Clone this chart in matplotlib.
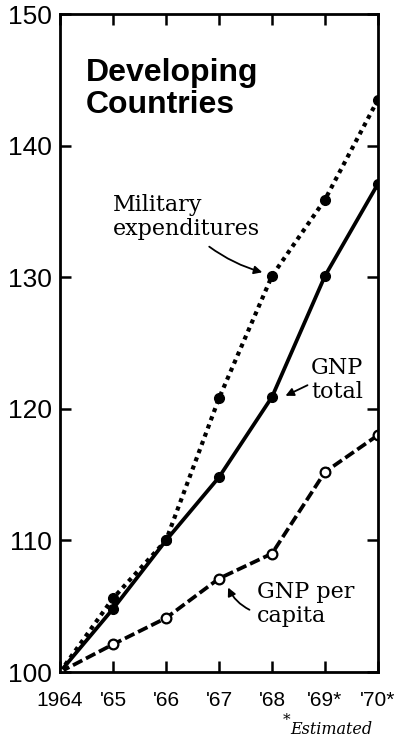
import matplotlib.pyplot as plt
import numpy as np

years = [1964, 1965, 1966, 1967, 1968, 1969, 1970]
year_labels = ["1964", "'65", "'66", "'67", "'68", "'69*", "'70*"]
military = [100, 105.6, 110, 120.8, 130.1, 135.9, 143.5]
gnp_total = [100, 104.8, 110, 114.8, 120.9, 130.1, 137.1]
gnp_per_capita = [100, 102.1, 104.1, 107.1, 109.0, 115.2, 118.0]
y_ticks = [100, 110, 120, 130, 140, 150]

W, H = 401, 742
fig = plt.figure(figsize=(W / 100, H / 100), dpi=100)
ax = fig.add_axes([60 / W, 70 / H, 318 / W, 658 / H])

sans = ['Liberation Sans', 'DejaVu Sans']
serif = ['DejaVu Serif']

lw = 2.7
ax.plot(years, military, color='black', lw=3.0, linestyle=(0, (1.0, 1.1)),
        marker='o', ms=7, mfc='black', mec='black', dash_capstyle='butt')
ax.plot(years, gnp_total, color='black', lw=lw, linestyle='-',
        marker='o', ms=7, mfc='black', mec='black')
ax.plot(years, gnp_per_capita, color='black', lw=lw, linestyle=(0, (2.8, 1.1)),
        marker='o', ms=7, mfc='white', mec='black', mew=1.6)

ax.set_xlim(1964, 1970)
ax.set_ylim(100, 150)
ax.set_xticks(years)
ax.set_xticklabels(year_labels, family=sans, fontsize=15)
ax.set_yticks(y_ticks)
ax.set_yticklabels([str(v) for v in y_ticks], family=sans, fontsize=19)
ax.tick_params(axis='both', direction='in', length=8, width=1.8,
               top=True, right=True)
ax.tick_params(axis='x', pad=14)
ax.tick_params(axis='y', pad=6)
for sp in ax.spines.values():
    sp.set_linewidth(2)

# pixel -> data helpers
def px(x):
    return 1964 + (x - 60) / 53.0

def py(y):
    return 100 + (672 - y) / 13.16

ax.text(px(86), py(89), 'Developing\nCountries', ha='left', va='center',
        fontsize=23, fontweight='bold', family=sans, linespacing=1.05)

ax.text(px(113), py(217), 'Military\nexpenditures', ha='left', va='center',
        fontsize=16, family=serif, linespacing=1.1)
ax.annotate('', xy=(px(265), py(273)), xytext=(px(207), py(245)),
            arrowprops=dict(arrowstyle='-|>', color='black', lw=1.3,
                            connectionstyle='arc3,rad=0.1', mutation_scale=12))

ax.text(px(337), py(380), 'GNP\ntotal', ha='center', va='center',
        fontsize=16, family=serif, linespacing=1.1)
ax.annotate('', xy=(px(283), py(397)), xytext=(px(310), py(384)),
            arrowprops=dict(arrowstyle='-|>', color='black', lw=1.3,
                            mutation_scale=12))

ax.text(px(257), py(604), 'GNP per\ncapita', ha='left', va='center',
        fontsize=16, family=serif, linespacing=1.1)
ax.annotate('', xy=(px(227), py(585)), xytext=(px(252), py(611)),
            arrowprops=dict(arrowstyle='-|>', color='black', lw=1.3,
                            connectionstyle='arc3,rad=-0.2', mutation_scale=12))

fig.text(287 / W, 1 - 720 / H, '*', ha='center', va='center',
         fontsize=11, family=serif)
fig.text(290 / W, 1 - 729 / H, 'Estimated', ha='left', va='center',
         fontsize=11.5, family=serif, style='italic')

fig.savefig('out.png', dpi=100)
